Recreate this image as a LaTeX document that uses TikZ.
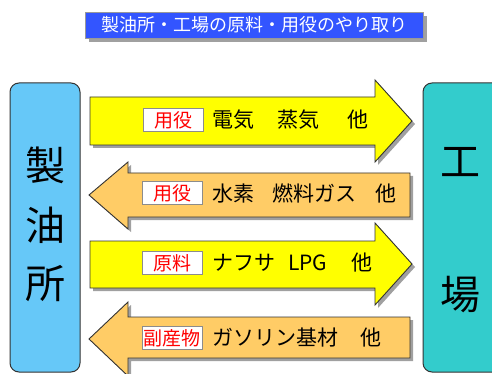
\documentclass[tikz,border=0pt]{standalone}
\usepackage{fontspec}
\newfontfamily\jp{Noto Sans CJK JP}
\definecolor{titleblue}{HTML}{3355FF}
\definecolor{leftblue}{HTML}{66C8F8}
\definecolor{rightteal}{HTML}{33CCCC}
\definecolor{arrowyellow}{HTML}{FFFF00}
\definecolor{arroworange}{HTML}{FFCC66}
\definecolor{outline}{HTML}{333333}
\definecolor{shadowgray}{HTML}{A0A0A0}
\begin{document}
\begin{tikzpicture}[x=1pt,y=-1pt,
  yarrow/.style={fill=arrowyellow,draw=outline,line width=0.9pt,line join=miter},
  oarrow/.style={fill=arroworange,draw=outline,line width=0.9pt,line join=miter},
  shadowfill/.style={fill=shadowgray,draw=none},
  sidebox/.style={draw=outline,line width=1pt,rounded corners=9pt},
  bigchar/.style={font=\jp\fontsize{40}{40}\selectfont,text=black,inner sep=0pt},
  tagbox/.style={fill=white,draw=black!45,line width=0.6pt,minimum width=60pt,minimum height=23pt,inner sep=0pt,text=red,font=\jp\fontsize{19}{19}\selectfont},
  itemtext/.style={anchor=west,inner sep=0pt,text=black,font=\jp\fontsize{21}{21}\selectfont},
  titlebox/.style={fill=titleblue,draw=black!40,line width=0.5pt,minimum width=338pt,minimum height=26pt,inner sep=0pt,text=white,font=\jp\fontsize{18}{18}\selectfont}
]
\clip (0,0) rectangle (492,374);
\fill[white] (0,0) rectangle (492,374);

% title
\fill[shadowgray] (89,16) rectangle (427,42);
\node[titlebox] (title) at (254,25) {製油所・工場の原料・用役のやり取り};

% side boxes
\draw[sidebox,fill=leftblue] (10,83) rectangle (80,372);
\draw[sidebox,fill=rightteal] (423,83) rectangle (530,372);
\node[bigchar] (l1) at (45,165) {製};
\node[bigchar] (l2) at (45,225) {油};
\node[bigchar] (l3) at (45,284) {所};
\node[bigchar] (r1) at (460,162) {工};
\node[bigchar] (r2) at (460,295) {場};

% arrow 1 (right)
\begin{scope}[shift={(3,3)}]
\fill[shadowfill] (90,97) -- (375,97) -- (375,80) -- (412,121) -- (375,162) -- (375,145) -- (90,145) -- cycle;
\end{scope}
\draw[yarrow] (90,97) -- (375,97) -- (375,80) -- (412,121) -- (375,162) -- (375,145) -- (90,145) -- cycle;

% arrow 2 (left)
\begin{scope}[shift={(3,3)}]
\fill[shadowfill] (89,195) -- (128,162) -- (128,173) -- (410,173) -- (410,217) -- (128,217) -- (128,229) -- cycle;
\end{scope}
\draw[oarrow] (89,195) -- (128,162) -- (128,173) -- (410,173) -- (410,217) -- (128,217) -- (128,229) -- cycle;

% arrow 3 (right)
\begin{scope}[shift={(3,3)}]
\fill[shadowfill] (90,241) -- (375,241) -- (375,223) -- (412,264) -- (375,305) -- (375,288) -- (90,288) -- cycle;
\end{scope}
\draw[yarrow] (90,241) -- (375,241) -- (375,223) -- (412,264) -- (375,305) -- (375,288) -- (90,288) -- cycle;

% arrow 4 (left)
\begin{scope}[shift={(3,3)}]
\fill[shadowfill] (89,339) -- (128,302) -- (128,317) -- (410,317) -- (410,358) -- (128,358) -- (128,376) -- cycle;
\end{scope}
\draw[oarrow] (89,339) -- (128,302) -- (128,317) -- (410,317) -- (410,358) -- (128,358) -- (128,376) -- cycle;

% tags
\node[tagbox] (t1) at (173,120) {用役};
\node[tagbox] (t2) at (172,193) {用役};
\node[tagbox] (t3) at (172,263) {原料};
\node[tagbox] (t4) at (172,338) {副産物};

% item texts
\node[itemtext] (i1) at (212,120) {電気\hspace{23pt}蒸気\hspace{28pt}他};
\node[itemtext] (i2) at (212,193) {水素\hspace{18pt}燃料ガス\hspace{19pt}他};
\node[itemtext] (i3) at (212,263) {ナフサ\hspace{13pt}LPG\hspace{24pt}他};
\node[itemtext] (i4) at (212,338) {ガソリン基材\hspace{22pt}他};
\end{tikzpicture}
\end{document}
